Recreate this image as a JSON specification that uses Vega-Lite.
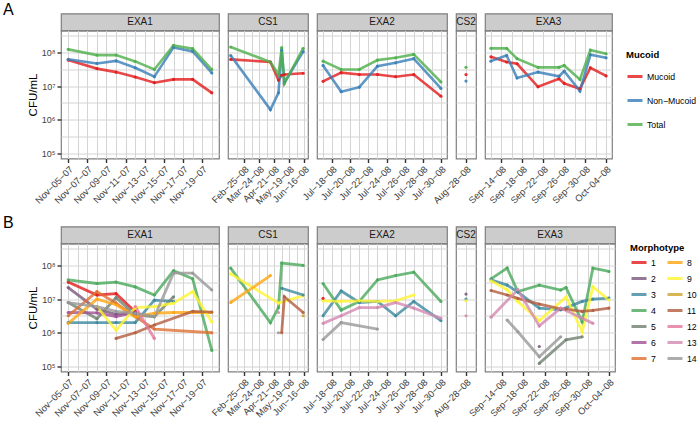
{
"$schema":"https://vega.github.io/schema/vega-lite/v6.json",
"padding":{"left":3,"top":1.5,"right":12,"bottom":0},
"datasets":{
"A":[
{"p":"EXA1","d":"2007-11-05T00:00","g":"Mucoid","v":5.9e7},{"p":"EXA1","d":"2007-11-08T00:00","g":"Mucoid","v":3.3e7},{"p":"EXA1","d":"2007-11-10T00:00","g":"Mucoid","v":2.6e7},{"p":"EXA1","d":"2007-11-12T00:00","g":"Mucoid","v":1.86e7},{"p":"EXA1","d":"2007-11-14T00:00","g":"Mucoid","v":1.26e7},{"p":"EXA1","d":"2007-11-16T00:00","g":"Mucoid","v":1.58e7},{"p":"EXA1","d":"2007-11-18T00:00","g":"Mucoid","v":1.58e7},{"p":"EXA1","d":"2007-11-20T00:00","g":"Mucoid","v":6.3e6},
{"p":"EXA1","d":"2007-11-05T00:00","g":"Non−Mucoid","v":6.2e7},{"p":"EXA1","d":"2007-11-08T00:00","g":"Non−Mucoid","v":4.7e7},{"p":"EXA1","d":"2007-11-10T00:00","g":"Non−Mucoid","v":5.6e7},{"p":"EXA1","d":"2007-11-12T00:00","g":"Non−Mucoid","v":3.5e7},{"p":"EXA1","d":"2007-11-14T00:00","g":"Non−Mucoid","v":1.9e7},{"p":"EXA1","d":"2007-11-16T00:00","g":"Non−Mucoid","v":1.41e8},{"p":"EXA1","d":"2007-11-18T00:00","g":"Non−Mucoid","v":1.07e8},{"p":"EXA1","d":"2007-11-20T00:00","g":"Non−Mucoid","v":2.45e7},
{"p":"EXA1","d":"2007-11-05T00:00","g":"Total","v":1.23e8},{"p":"EXA1","d":"2007-11-08T00:00","g":"Total","v":8.3e7},{"p":"EXA1","d":"2007-11-10T00:00","g":"Total","v":8.3e7},{"p":"EXA1","d":"2007-11-12T00:00","g":"Total","v":5.4e7},{"p":"EXA1","d":"2007-11-14T00:00","g":"Total","v":3.1e7},{"p":"EXA1","d":"2007-11-16T00:00","g":"Total","v":1.62e8},{"p":"EXA1","d":"2007-11-18T00:00","g":"Total","v":1.29e8},{"p":"EXA1","d":"2007-11-20T00:00","g":"Total","v":3.1e7},
{"p":"CS1","d":"2008-01-31T00:00","g":"Mucoid","v":6.2e7},{"p":"CS1","d":"2008-04-14T00:00","g":"Mucoid","v":5.2e7},{"p":"CS1","d":"2008-04-29T00:00","g":"Mucoid","v":1.51e7},{"p":"CS1","d":"2008-05-05T00:00","g":"Mucoid","v":2.1e7},{"p":"CS1","d":"2008-05-10T00:00","g":"Mucoid","v":2.2e7},{"p":"CS1","d":"2008-06-14T00:00","g":"Mucoid","v":2.4e7},
{"p":"CS1","d":"2008-01-31T00:00","g":"Non−Mucoid","v":8.1e7},{"p":"CS1","d":"2008-04-14T00:00","g":"Non−Mucoid","v":2.0e6},{"p":"CS1","d":"2008-04-29T00:00","g":"Non−Mucoid","v":6.3e6},{"p":"CS1","d":"2008-05-05T00:00","g":"Non−Mucoid","v":1.17e8},{"p":"CS1","d":"2008-05-10T00:00","g":"Non−Mucoid","v":1.26e7},{"p":"CS1","d":"2008-06-14T00:00","g":"Non−Mucoid","v":1.05e8},
{"p":"CS1","d":"2008-01-31T00:00","g":"Total","v":1.45e8},{"p":"CS1","d":"2008-04-14T00:00","g":"Total","v":5.2e7},{"p":"CS1","d":"2008-04-29T00:00","g":"Total","v":2.2e7},{"p":"CS1","d":"2008-05-05T00:00","g":"Total","v":1.38e8},{"p":"CS1","d":"2008-05-10T00:00","g":"Total","v":1.2e7},{"p":"CS1","d":"2008-06-14T00:00","g":"Total","v":1.32e8},
{"p":"EXA2","d":"2008-07-17T00:00","g":"Mucoid","v":1.38e7},{"p":"EXA2","d":"2008-07-19T00:00","g":"Mucoid","v":2.5e7},{"p":"EXA2","d":"2008-07-21T00:00","g":"Mucoid","v":2.2e7},{"p":"EXA2","d":"2008-07-23T00:00","g":"Mucoid","v":2.2e7},{"p":"EXA2","d":"2008-07-25T00:00","g":"Mucoid","v":1.9e7},{"p":"EXA2","d":"2008-07-27T00:00","g":"Mucoid","v":2.2e7},{"p":"EXA2","d":"2008-07-30T00:00","g":"Mucoid","v":5.0e6},
{"p":"EXA2","d":"2008-07-17T00:00","g":"Non−Mucoid","v":4.1e7},{"p":"EXA2","d":"2008-07-19T00:00","g":"Non−Mucoid","v":6.8e6},{"p":"EXA2","d":"2008-07-21T00:00","g":"Non−Mucoid","v":9.3e6},{"p":"EXA2","d":"2008-07-23T00:00","g":"Non−Mucoid","v":3.9e7},{"p":"EXA2","d":"2008-07-25T00:00","g":"Non−Mucoid","v":4.9e7},{"p":"EXA2","d":"2008-07-27T00:00","g":"Non−Mucoid","v":6.5e7},{"p":"EXA2","d":"2008-07-30T00:00","g":"Non−Mucoid","v":8.5e6},
{"p":"EXA2","d":"2008-07-17T00:00","g":"Total","v":5.5e7},{"p":"EXA2","d":"2008-07-19T00:00","g":"Total","v":3.1e7},{"p":"EXA2","d":"2008-07-21T00:00","g":"Total","v":3.1e7},{"p":"EXA2","d":"2008-07-23T00:00","g":"Total","v":5.9e7},{"p":"EXA2","d":"2008-07-25T00:00","g":"Total","v":6.9e7},{"p":"EXA2","d":"2008-07-27T00:00","g":"Total","v":8.7e7},{"p":"EXA2","d":"2008-07-30T00:00","g":"Total","v":1.32e7},
{"p":"CS2","d":"2008-08-28T00:00","g":"Mucoid","v":2.2e7},{"p":"CS2","d":"2008-08-28T00:00","g":"Non−Mucoid","v":1.41e7},{"p":"CS2","d":"2008-08-28T00:00","g":"Total","v":3.6e7},
{"p":"EXA3","d":"2008-09-12T00:00","g":"Mucoid","v":7.4e7},{"p":"EXA3","d":"2008-09-15T00:00","g":"Mucoid","v":5.2e7},{"p":"EXA3","d":"2008-09-17T00:00","g":"Mucoid","v":4.6e7},{"p":"EXA3","d":"2008-09-21T00:00","g":"Mucoid","v":9.5e6},{"p":"EXA3","d":"2008-09-25T00:00","g":"Mucoid","v":1.66e7},{"p":"EXA3","d":"2008-09-26T00:00","g":"Mucoid","v":1.2e7},{"p":"EXA3","d":"2008-09-29T00:00","g":"Mucoid","v":8.3e6},{"p":"EXA3","d":"2008-10-01T00:00","g":"Mucoid","v":3.5e7},{"p":"EXA3","d":"2008-10-04T00:00","g":"Mucoid","v":2.0e7},
{"p":"EXA3","d":"2008-09-12T00:00","g":"Non−Mucoid","v":5.5e7},{"p":"EXA3","d":"2008-09-15T00:00","g":"Non−Mucoid","v":8.1e7},{"p":"EXA3","d":"2008-09-17T00:00","g":"Non−Mucoid","v":1.74e7},{"p":"EXA3","d":"2008-09-21T00:00","g":"Non−Mucoid","v":2.6e7},{"p":"EXA3","d":"2008-09-25T00:00","g":"Non−Mucoid","v":1.95e7},{"p":"EXA3","d":"2008-09-26T00:00","g":"Non−Mucoid","v":2.75e7},{"p":"EXA3","d":"2008-09-29T00:00","g":"Non−Mucoid","v":7.1e6},{"p":"EXA3","d":"2008-10-01T00:00","g":"Non−Mucoid","v":8.5e7},{"p":"EXA3","d":"2008-10-04T00:00","g":"Non−Mucoid","v":6.9e7},
{"p":"EXA3","d":"2008-09-12T00:00","g":"Total","v":1.32e8},{"p":"EXA3","d":"2008-09-15T00:00","g":"Total","v":1.32e8},{"p":"EXA3","d":"2008-09-17T00:00","g":"Total","v":6.5e7},{"p":"EXA3","d":"2008-09-21T00:00","g":"Total","v":3.6e7},{"p":"EXA3","d":"2008-09-25T00:00","g":"Total","v":3.6e7},{"p":"EXA3","d":"2008-09-26T00:00","g":"Total","v":4.1e7},{"p":"EXA3","d":"2008-09-29T00:00","g":"Total","v":1.58e7},{"p":"EXA3","d":"2008-10-01T00:00","g":"Total","v":1.17e8},{"p":"EXA3","d":"2008-10-04T00:00","g":"Total","v":9.1e7}
],
"B":[
{"p":"EXA1","d":"2007-11-05T00:00","m":"1","v":3.2e7},{"p":"EXA1","d":"2007-11-08T00:00","m":"1","v":1.32e7},{"p":"EXA1","d":"2007-11-10T00:00","m":"1","v":1.45e7},{"p":"EXA1","d":"2007-11-12T00:00","m":"1","v":4.2e6},
{"p":"EXA1","d":"2007-11-05T00:00","m":"2","v":2.2e7},{"p":"EXA1","d":"2007-11-08T00:00","m":"2","v":5.0e6},{"p":"EXA1","d":"2007-11-10T00:00","m":"2","v":3.5e6},{"p":"EXA1","d":"2007-11-12T00:00","m":"2","v":4.0e6},
{"p":"EXA1","d":"2007-11-05T00:00","m":"3","v":2.0e6},{"p":"EXA1","d":"2007-11-08T00:00","m":"3","v":2.0e6},{"p":"EXA1","d":"2007-11-10T00:00","m":"3","v":2.0e6},{"p":"EXA1","d":"2007-11-12T00:00","m":"3","v":2.0e6},{"p":"EXA1","d":"2007-11-14T00:00","m":"3","v":9.3e6},{"p":"EXA1","d":"2007-11-16T00:00","m":"3","v":8.5e6},
{"p":"EXA1","d":"2007-11-05T00:00","m":"4","v":3.7e7},{"p":"EXA1","d":"2007-11-08T00:00","m":"4","v":2.9e7},{"p":"EXA1","d":"2007-11-10T00:00","m":"4","v":3.2e7},{"p":"EXA1","d":"2007-11-12T00:00","m":"4","v":2.3e7},{"p":"EXA1","d":"2007-11-14T00:00","m":"4","v":1.32e7},{"p":"EXA1","d":"2007-11-16T00:00","m":"4","v":6.9e7},{"p":"EXA1","d":"2007-11-18T00:00","m":"4","v":4.0e7},{"p":"EXA1","d":"2007-11-20T00:00","m":"4","v":3.0e5},
{"p":"EXA1","d":"2007-11-05T00:00","m":"5","v":7.9e6},{"p":"EXA1","d":"2007-11-08T00:00","m":"5","v":2.6e6},{"p":"EXA1","d":"2007-11-10T00:00","m":"5","v":1.1e7},{"p":"EXA1","d":"2007-11-12T00:00","m":"5","v":3.4e6},{"p":"EXA1","d":"2007-11-14T00:00","m":"5","v":3.0e6},{"p":"EXA1","d":"2007-11-16T00:00","m":"5","v":1.17e7},
{"p":"EXA1","d":"2007-11-05T00:00","m":"6","v":4.0e6},{"p":"EXA1","d":"2007-11-08T00:00","m":"6","v":3.9e6},{"p":"EXA1","d":"2007-11-10T00:00","m":"6","v":3.0e6},{"p":"EXA1","d":"2007-11-12T00:00","m":"6","v":4.0e6},
{"p":"EXA1","d":"2007-11-05T00:00","m":"7","v":3.2e6},{"p":"EXA1","d":"2007-11-08T00:00","m":"7","v":1.66e7},{"p":"EXA1","d":"2007-11-10T00:00","m":"7","v":7.6e6},{"p":"EXA1","d":"2007-11-12T00:00","m":"7","v":3.0e6},{"p":"EXA1","d":"2007-11-14T00:00","m":"7","v":1.29e6},{"p":"EXA1","d":"2007-11-20T00:00","m":"7","v":1.0e6},
{"p":"EXA1","d":"2007-11-05T00:00","m":"8","v":1.9e6},{"p":"EXA1","d":"2007-11-08T00:00","m":"8","v":1.0e7},{"p":"EXA1","d":"2007-11-10T00:00","m":"8","v":6.8e6},{"p":"EXA1","d":"2007-11-12T00:00","m":"8","v":3.0e6},{"p":"EXA1","d":"2007-11-14T00:00","m":"8","v":3.8e6},{"p":"EXA1","d":"2007-11-16T00:00","m":"8","v":4.0e6},{"p":"EXA1","d":"2007-11-18T00:00","m":"8","v":4.0e6},{"p":"EXA1","d":"2007-11-20T00:00","m":"8","v":4.0e6},
{"p":"EXA1","d":"2007-11-08T00:00","m":"9","v":6.0e6},{"p":"EXA1","d":"2007-11-10T00:00","m":"9","v":1.2e6},{"p":"EXA1","d":"2007-11-12T00:00","m":"9","v":5.6e6},{"p":"EXA1","d":"2007-11-14T00:00","m":"9","v":6.0e6},{"p":"EXA1","d":"2007-11-16T00:00","m":"9","v":7.6e6},{"p":"EXA1","d":"2007-11-18T00:00","m":"9","v":1.66e7},{"p":"EXA1","d":"2007-11-20T00:00","m":"9","v":2.1e6},
{"p":"EXA1","d":"2007-11-10T00:00","m":"11","v":6.8e5},{"p":"EXA1","d":"2007-11-12T00:00","m":"11","v":1.0e6},{"p":"EXA1","d":"2007-11-14T00:00","m":"11","v":1.7e6},{"p":"EXA1","d":"2007-11-18T00:00","m":"11","v":4.3e6},{"p":"EXA1","d":"2007-11-20T00:00","m":"11","v":4.1e6},
{"p":"EXA1","d":"2007-11-12T00:00","m":"12","v":6.0e6},{"p":"EXA1","d":"2007-11-14T00:00","m":"12","v":6.8e5},
{"p":"EXA1","d":"2007-11-05T00:00","m":"14","v":7.9e6},{"p":"EXA1","d":"2007-11-08T00:00","m":"14","v":6.0e6},{"p":"EXA1","d":"2007-11-10T00:00","m":"14","v":4.3e6},{"p":"EXA1","d":"2007-11-12T00:00","m":"14","v":3.8e6},{"p":"EXA1","d":"2007-11-14T00:00","m":"14","v":3.0e6},{"p":"EXA1","d":"2007-11-16T00:00","m":"14","v":5.9e7},{"p":"EXA1","d":"2007-11-18T00:00","m":"14","v":5.9e7},{"p":"EXA1","d":"2007-11-20T00:00","m":"14","v":1.86e7},
{"p":"CS1","d":"2008-01-31T00:00","m":"4","v":8.3e7},{"p":"CS1","d":"2008-04-14T00:00","m":"4","v":2.0e6},{"p":"CS1","d":"2008-04-29T00:00","m":"4","v":5.6e6},{"p":"CS1","d":"2008-05-05T00:00","m":"4","v":1.17e8},{"p":"CS1","d":"2008-06-14T00:00","m":"4","v":1.0e8},
{"p":"CS1","d":"2008-01-31T00:00","m":"9","v":5.6e7},{"p":"CS1","d":"2008-04-29T00:00","m":"9","v":7.6e6},{"p":"CS1","d":"2008-06-14T00:00","m":"9","v":1.26e7},
{"p":"CS1","d":"2008-01-31T00:00","m":"8","v":7.9e6},{"p":"CS1","d":"2008-04-14T00:00","m":"8","v":5.0e7},
{"p":"CS1","d":"2008-05-05T00:00","m":"3","v":2.1e7},{"p":"CS1","d":"2008-06-14T00:00","m":"3","v":1.32e7},
{"p":"CS1","d":"2008-05-05T00:00","m":"11","v":1.0e6},{"p":"CS1","d":"2008-05-10T00:00","m":"11","v":1.17e7},{"p":"CS1","d":"2008-06-14T00:00","m":"11","v":4.0e6},
{"p":"CS1","d":"2008-06-14T00:00","m":"10","v":3.2e6},
{"p":"CS1","d":"2008-04-29T00:00","m":"13","v":4.0e6},
{"p":"CS1","d":"2008-04-29T00:00","m":"14","v":1.0e6},
{"p":"EXA2","d":"2008-07-17T00:00","m":"4","v":2.9e7},{"p":"EXA2","d":"2008-07-19T00:00","m":"4","v":4.7e6},{"p":"EXA2","d":"2008-07-21T00:00","m":"4","v":8.5e6},{"p":"EXA2","d":"2008-07-23T00:00","m":"4","v":3.7e7},{"p":"EXA2","d":"2008-07-25T00:00","m":"4","v":5.0e7},{"p":"EXA2","d":"2008-07-27T00:00","m":"4","v":6.3e7},{"p":"EXA2","d":"2008-07-30T00:00","m":"4","v":8.5e6},
{"p":"EXA2","d":"2008-07-17T00:00","m":"3","v":3.2e6},{"p":"EXA2","d":"2008-07-19T00:00","m":"3","v":1.74e7},{"p":"EXA2","d":"2008-07-21T00:00","m":"3","v":7.9e6},{"p":"EXA2","d":"2008-07-23T00:00","m":"3","v":8.5e6},{"p":"EXA2","d":"2008-07-25T00:00","m":"3","v":3.2e6},{"p":"EXA2","d":"2008-07-27T00:00","m":"3","v":8.5e6},{"p":"EXA2","d":"2008-07-30T00:00","m":"3","v":2.3e6},
{"p":"EXA2","d":"2008-07-17T00:00","m":"9","v":8.9e6},{"p":"EXA2","d":"2008-07-19T00:00","m":"9","v":8.5e6},{"p":"EXA2","d":"2008-07-21T00:00","m":"9","v":8.9e6},{"p":"EXA2","d":"2008-07-23T00:00","m":"9","v":8.5e6},{"p":"EXA2","d":"2008-07-25T00:00","m":"9","v":8.9e6},{"p":"EXA2","d":"2008-07-27T00:00","m":"9","v":1.32e7},
{"p":"EXA2","d":"2008-07-17T00:00","m":"13","v":1.9e6},{"p":"EXA2","d":"2008-07-19T00:00","m":"13","v":3.2e6},{"p":"EXA2","d":"2008-07-21T00:00","m":"13","v":5.6e6},{"p":"EXA2","d":"2008-07-23T00:00","m":"13","v":5.6e6},{"p":"EXA2","d":"2008-07-25T00:00","m":"13","v":7.9e6},{"p":"EXA2","d":"2008-07-27T00:00","m":"13","v":5.4e6},{"p":"EXA2","d":"2008-07-30T00:00","m":"13","v":2.7e6},
{"p":"EXA2","d":"2008-07-17T00:00","m":"14","v":6.3e5},{"p":"EXA2","d":"2008-07-19T00:00","m":"14","v":2.0e6},{"p":"EXA2","d":"2008-07-23T00:00","m":"14","v":1.29e6},
{"p":"EXA2","d":"2008-07-17T00:00","m":"1","v":1.05e7},
{"p":"CS2","d":"2008-08-28T00:00","m":"2","v":1.41e7},{"p":"CS2","d":"2008-08-28T00:00","m":"3","v":1.0e7},{"p":"CS2","d":"2008-08-28T00:00","m":"9","v":8.9e6},{"p":"CS2","d":"2008-08-28T00:00","m":"13","v":3.2e6},
{"p":"EXA3","d":"2008-09-12T00:00","m":"4","v":4.0e7},{"p":"EXA3","d":"2008-09-15T00:00","m":"4","v":8.3e7},{"p":"EXA3","d":"2008-09-17T00:00","m":"4","v":1.66e7},{"p":"EXA3","d":"2008-09-21T00:00","m":"4","v":2.6e7},{"p":"EXA3","d":"2008-09-25T00:00","m":"4","v":1.86e7},{"p":"EXA3","d":"2008-09-26T00:00","m":"4","v":2.2e7},{"p":"EXA3","d":"2008-09-29T00:00","m":"4","v":2.1e6},{"p":"EXA3","d":"2008-10-01T00:00","m":"4","v":8.3e7},{"p":"EXA3","d":"2008-10-04T00:00","m":"4","v":6.6e7},
{"p":"EXA3","d":"2008-09-12T00:00","m":"3","v":3.7e7},{"p":"EXA3","d":"2008-09-15T00:00","m":"3","v":2.6e7},{"p":"EXA3","d":"2008-09-17T00:00","m":"3","v":1.6e7},{"p":"EXA3","d":"2008-09-21T00:00","m":"3","v":5.4e6},{"p":"EXA3","d":"2008-09-25T00:00","m":"3","v":4.8e6},{"p":"EXA3","d":"2008-09-29T00:00","m":"3","v":8.5e6},{"p":"EXA3","d":"2008-10-01T00:00","m":"3","v":1.0e7},{"p":"EXA3","d":"2008-10-04T00:00","m":"3","v":1.07e7},
{"p":"EXA3","d":"2008-09-12T00:00","m":"9","v":3.5e7},{"p":"EXA3","d":"2008-09-15T00:00","m":"9","v":1.9e7},{"p":"EXA3","d":"2008-09-17T00:00","m":"9","v":8.5e6},{"p":"EXA3","d":"2008-09-21T00:00","m":"9","v":2.3e6},{"p":"EXA3","d":"2008-09-26T00:00","m":"9","v":1.15e7},{"p":"EXA3","d":"2008-09-29T00:00","m":"9","v":1.07e6},{"p":"EXA3","d":"2008-10-01T00:00","m":"9","v":2.3e7},{"p":"EXA3","d":"2008-10-04T00:00","m":"9","v":9.5e6},
{"p":"EXA3","d":"2008-09-12T00:00","m":"11","v":1.8e7},{"p":"EXA3","d":"2008-09-15T00:00","m":"11","v":1.32e7},{"p":"EXA3","d":"2008-09-17T00:00","m":"11","v":1.05e7},{"p":"EXA3","d":"2008-09-21T00:00","m":"11","v":7.1e6},{"p":"EXA3","d":"2008-09-25T00:00","m":"11","v":5.1e6},{"p":"EXA3","d":"2008-09-26T00:00","m":"11","v":5.0e6},{"p":"EXA3","d":"2008-09-29T00:00","m":"11","v":4.3e6},{"p":"EXA3","d":"2008-10-01T00:00","m":"11","v":4.6e6},{"p":"EXA3","d":"2008-10-04T00:00","m":"11","v":5.4e6},
{"p":"EXA3","d":"2008-09-12T00:00","m":"13","v":2.9e6},{"p":"EXA3","d":"2008-09-17T00:00","m":"13","v":1.9e7},{"p":"EXA3","d":"2008-09-21T00:00","m":"13","v":1.6e6},{"p":"EXA3","d":"2008-09-25T00:00","m":"13","v":5.4e6},{"p":"EXA3","d":"2008-10-01T00:00","m":"13","v":1.9e6},
{"p":"EXA3","d":"2008-09-15T00:00","m":"14","v":2.4e6},{"p":"EXA3","d":"2008-09-17T00:00","m":"14","v":1.07e6},{"p":"EXA3","d":"2008-09-21T00:00","m":"14","v":1.95e5},{"p":"EXA3","d":"2008-09-25T00:00","m":"14","v":7.6e5},
{"p":"EXA3","d":"2008-09-21T00:00","m":"5","v":1.23e5},{"p":"EXA3","d":"2008-09-26T00:00","m":"5","v":6.2e5},{"p":"EXA3","d":"2008-09-29T00:00","m":"5","v":7.6e5},
{"p":"EXA3","d":"2008-09-21T00:00","m":"2","v":3.9e5}
]},
"vconcat":[
{"title":{"text":"A","anchor":"start","frame":"group","orient":"top","offset":0,"fontSize":16,"fontWeight":"normal","baseline":"alphabetic","dx":-58,"dy":18,"color":"#000000"},
"columns":5,"align":"each","bounds":"flush","spacing":{"row":0,"column":9},
"concat":[
{"width":158,"height":17,"data":{"values":[{"t":"EXA1"}]},"mark":{"type":"text","fontSize":10,"color":"#1a1a1a"},"encoding":{"text":{"field":"t","type":"nominal"}},"view":{"fill":"#cccccc","stroke":"#7f7f7f","strokeWidth":1.2}},
{"width":80,"height":17,"data":{"values":[{"t":"CS1"}]},"mark":{"type":"text","fontSize":10,"color":"#1a1a1a"},"encoding":{"text":{"field":"t","type":"nominal"}},"view":{"fill":"#cccccc","stroke":"#7f7f7f","strokeWidth":1.2}},
{"width":130,"height":17,"data":{"values":[{"t":"EXA2"}]},"mark":{"type":"text","fontSize":10,"color":"#1a1a1a"},"encoding":{"text":{"field":"t","type":"nominal"}},"view":{"fill":"#cccccc","stroke":"#7f7f7f","strokeWidth":1.2}},
{"width":20,"height":17,"data":{"values":[{"t":"CS2"}]},"mark":{"type":"text","fontSize":10,"color":"#1a1a1a"},"encoding":{"text":{"field":"t","type":"nominal"}},"view":{"fill":"#cccccc","stroke":"#7f7f7f","strokeWidth":1.2}},
{"width":127,"height":17,"data":{"values":[{"t":"EXA3"}]},"mark":{"type":"text","fontSize":10,"color":"#1a1a1a"},"encoding":{"text":{"field":"t","type":"nominal"}},"view":{"fill":"#cccccc","stroke":"#7f7f7f","strokeWidth":1.2}},
{"width":158,"height":128,"data":{"name":"A"},"transform":[{"filter":"datum.p==='EXA1'"}],
"encoding":{
"x":{"field":"d","type":"temporal","scale":{"nice":false,"domain":[{"year":2007,"month":11,"date":4,"hours":6},{"year":2007,"month":11,"date":20,"hours":18}]},"axis":{"title":null,"values":[{"year":2007,"month":11,"date":5},{"year":2007,"month":11,"date":6},{"year":2007,"month":11,"date":7},{"year":2007,"month":11,"date":8},{"year":2007,"month":11,"date":9},{"year":2007,"month":11,"date":10},{"year":2007,"month":11,"date":11},{"year":2007,"month":11,"date":12},{"year":2007,"month":11,"date":13},{"year":2007,"month":11,"date":14},{"year":2007,"month":11,"date":15},{"year":2007,"month":11,"date":16},{"year":2007,"month":11,"date":17},{"year":2007,"month":11,"date":18},{"year":2007,"month":11,"date":19},{"year":2007,"month":11,"date":20}],"labelExpr":"indexof(['11-05','11-07','11-09','11-11','11-13','11-15','11-17','11-19'], timeFormat(datum.value,'%m-%d'))>=0 ? timeFormat(datum.value,'%b−%d−%y') : ''","tickOpacity":{"condition":{"test":"indexof(['11-05','11-07','11-09','11-11','11-13','11-15','11-17','11-19'], timeFormat(datum.value,'%m-%d'))>=0","value":1},"value":0}}},
"y":{"field":"v","type":"quantitative","scale":{"type":"log","nice":false,"zero":false,"domain":[70794.58,446683592]},"axis":{"title":"CFU/mL","values":[100000,316227.766,1000000,3162277.66,10000000,31622776.6,100000000,316227766],"labelExpr":"abs(log(datum.value)/LN10-round(log(datum.value)/LN10))<0.01 ? '10'+['⁰','¹','²','³','⁴','⁵','⁶','⁷','⁸','⁹'][round(log(datum.value)/LN10)] : ''","tickOpacity":{"condition":{"test":"abs(log(datum.value)/LN10-round(log(datum.value)/LN10))<0.01","value":1},"value":0}}},
"color":{"field":"g","type":"nominal","scale":{"domain":["Mucoid","Non−Mucoid","Total"],"range":["#E41A1C","#377EB8","#4DAF4A"]},"legend":{"title":"Mucoid","legendX":565,"legendY":36.5,"rowPadding":9,"titlePadding":8}}},
"layer":[{"mark":{"type":"line","strokeWidth":2.6,"opacity":0.8},"encoding":{}},{"mark":{"type":"point","filled":true,"size":10,"opacity":0.9}}]},
{"width":80,"height":128,"data":{"name":"A"},"transform":[{"filter":"datum.p==='CS1'"}],
"encoding":{
"x":{"field":"d","type":"temporal","scale":{"nice":false,"domain":[{"year":2008,"month":1,"date":26},{"year":2008,"month":6,"date":23}]},"axis":{"title":null,"values":[{"year":2008,"month":2,"date":11},{"year":2008,"month":2,"date":25},{"year":2008,"month":3,"date":10},{"year":2008,"month":3,"date":24},{"year":2008,"month":4,"date":7},{"year":2008,"month":4,"date":21},{"year":2008,"month":5,"date":5},{"year":2008,"month":5,"date":19},{"year":2008,"month":6,"date":2},{"year":2008,"month":6,"date":16}],"labelExpr":"indexof(['02-25','03-24','04-21','05-19','06-16'], timeFormat(datum.value,'%m-%d'))>=0 ? timeFormat(datum.value,'%b−%d−%y') : ''","tickOpacity":{"condition":{"test":"indexof(['02-25','03-24','04-21','05-19','06-16'], timeFormat(datum.value,'%m-%d'))>=0","value":1},"value":0}}},
"y":{"field":"v","type":"quantitative","scale":{"type":"log","nice":false,"zero":false,"domain":[70794.58,446683592]},"axis":{"title":null,"labels":false,"ticks":false,"values":[100000,316227.766,1000000,3162277.66,10000000,31622776.6,100000000,316227766]}},
"color":{"field":"g","type":"nominal","scale":{"domain":["Mucoid","Non−Mucoid","Total"],"range":["#E41A1C","#377EB8","#4DAF4A"]},"legend":{"title":"Mucoid","legendX":565,"legendY":36.5,"rowPadding":9,"titlePadding":8}}},
"layer":[{"mark":{"type":"line","strokeWidth":2.6,"opacity":0.8},"encoding":{}},{"mark":{"type":"point","filled":true,"size":10,"opacity":0.9}}]},
{"width":130,"height":128,"data":{"name":"A"},"transform":[{"filter":"datum.p==='EXA2'"}],
"encoding":{
"x":{"field":"d","type":"temporal","scale":{"nice":false,"domain":[{"year":2008,"month":7,"date":16,"hours":8},{"year":2008,"month":7,"date":30,"hours":16}]},"axis":{"title":null,"values":[{"year":2008,"month":7,"date":17},{"year":2008,"month":7,"date":18},{"year":2008,"month":7,"date":19},{"year":2008,"month":7,"date":20},{"year":2008,"month":7,"date":21},{"year":2008,"month":7,"date":22},{"year":2008,"month":7,"date":23},{"year":2008,"month":7,"date":24},{"year":2008,"month":7,"date":25},{"year":2008,"month":7,"date":26},{"year":2008,"month":7,"date":27},{"year":2008,"month":7,"date":28},{"year":2008,"month":7,"date":29},{"year":2008,"month":7,"date":30}],"labelExpr":"indexof(['07-18','07-20','07-22','07-24','07-26','07-28','07-30'], timeFormat(datum.value,'%m-%d'))>=0 ? timeFormat(datum.value,'%b−%d−%y') : ''","tickOpacity":{"condition":{"test":"indexof(['07-18','07-20','07-22','07-24','07-26','07-28','07-30'], timeFormat(datum.value,'%m-%d'))>=0","value":1},"value":0}}},
"y":{"field":"v","type":"quantitative","scale":{"type":"log","nice":false,"zero":false,"domain":[70794.58,446683592]},"axis":{"title":null,"labels":false,"ticks":false,"values":[100000,316227.766,1000000,3162277.66,10000000,31622776.6,100000000,316227766]}},
"color":{"field":"g","type":"nominal","scale":{"domain":["Mucoid","Non−Mucoid","Total"],"range":["#E41A1C","#377EB8","#4DAF4A"]},"legend":{"title":"Mucoid","legendX":565,"legendY":36.5,"rowPadding":9,"titlePadding":8}}},
"layer":[{"mark":{"type":"line","strokeWidth":2.6,"opacity":0.8},"encoding":{}},{"mark":{"type":"point","filled":true,"size":10,"opacity":0.9}}]},
{"width":20,"height":128,"data":{"name":"A"},"transform":[{"filter":"datum.p==='CS2'"}],
"encoding":{
"x":{"field":"d","type":"temporal","scale":{"nice":false,"domain":[{"year":2008,"month":8,"date":27},{"year":2008,"month":8,"date":29}]},"axis":{"title":null,"values":[{"year":2008,"month":8,"date":28}],"labelExpr":"timeFormat(datum.value,'%b−%d−%y')"}},
"y":{"field":"v","type":"quantitative","scale":{"type":"log","nice":false,"zero":false,"domain":[70794.58,446683592]},"axis":{"title":null,"labels":false,"ticks":false,"values":[100000,316227.766,1000000,3162277.66,10000000,31622776.6,100000000,316227766]}},
"color":{"field":"g","type":"nominal","scale":{"domain":["Mucoid","Non−Mucoid","Total"],"range":["#E41A1C","#377EB8","#4DAF4A"]},"legend":{"title":"Mucoid","legendX":565,"legendY":36.5,"rowPadding":9,"titlePadding":8}}},
"layer":[{"mark":{"type":"line","strokeWidth":2.6,"opacity":0.8},"encoding":{}},{"mark":{"type":"point","filled":true,"size":10,"opacity":0.9}}]},
{"width":127,"height":128,"data":{"name":"A"},"transform":[{"filter":"datum.p==='EXA3'"}],
"encoding":{
"x":{"field":"d","type":"temporal","scale":{"nice":false,"domain":[{"year":2008,"month":9,"date":10,"hours":21},{"year":2008,"month":10,"date":5,"hours":3}]},"axis":{"title":null,"values":[{"year":2008,"month":9,"date":12},{"year":2008,"month":9,"date":14},{"year":2008,"month":9,"date":16},{"year":2008,"month":9,"date":18},{"year":2008,"month":9,"date":20},{"year":2008,"month":9,"date":22},{"year":2008,"month":9,"date":24},{"year":2008,"month":9,"date":26},{"year":2008,"month":9,"date":28},{"year":2008,"month":9,"date":30},{"year":2008,"month":10,"date":2},{"year":2008,"month":10,"date":4}],"labelExpr":"indexof(['09-14','09-18','09-22','09-26','09-30','10-04'], timeFormat(datum.value,'%m-%d'))>=0 ? timeFormat(datum.value,'%b−%d−%y') : ''","tickOpacity":{"condition":{"test":"indexof(['09-14','09-18','09-22','09-26','09-30','10-04'], timeFormat(datum.value,'%m-%d'))>=0","value":1},"value":0}}},
"y":{"field":"v","type":"quantitative","scale":{"type":"log","nice":false,"zero":false,"domain":[70794.58,446683592]},"axis":{"title":null,"labels":false,"ticks":false,"values":[100000,316227.766,1000000,3162277.66,10000000,31622776.6,100000000,316227766]}},
"color":{"field":"g","type":"nominal","scale":{"domain":["Mucoid","Non−Mucoid","Total"],"range":["#E41A1C","#377EB8","#4DAF4A"]},"legend":{"title":"Mucoid","legendX":565,"legendY":36.5,"rowPadding":9,"titlePadding":8}}},
"layer":[{"mark":{"type":"line","strokeWidth":2.6,"opacity":0.8},"encoding":{}},{"mark":{"type":"point","filled":true,"size":10,"opacity":0.9}}]}
]},
{"title":{"text":"B","anchor":"start","frame":"group","orient":"top","offset":0,"fontSize":16,"fontWeight":"normal","baseline":"alphabetic","dx":-58,"dy":18,"color":"#000000"},
"columns":5,"align":"each","bounds":"flush","spacing":{"row":0,"column":9},
"concat":[
{"width":158,"height":17,"data":{"values":[{"t":"EXA1"}]},"mark":{"type":"text","fontSize":10,"color":"#1a1a1a"},"encoding":{"text":{"field":"t","type":"nominal"}},"view":{"fill":"#cccccc","stroke":"#7f7f7f","strokeWidth":1.2}},
{"width":80,"height":17,"data":{"values":[{"t":"CS1"}]},"mark":{"type":"text","fontSize":10,"color":"#1a1a1a"},"encoding":{"text":{"field":"t","type":"nominal"}},"view":{"fill":"#cccccc","stroke":"#7f7f7f","strokeWidth":1.2}},
{"width":130,"height":17,"data":{"values":[{"t":"EXA2"}]},"mark":{"type":"text","fontSize":10,"color":"#1a1a1a"},"encoding":{"text":{"field":"t","type":"nominal"}},"view":{"fill":"#cccccc","stroke":"#7f7f7f","strokeWidth":1.2}},
{"width":20,"height":17,"data":{"values":[{"t":"CS2"}]},"mark":{"type":"text","fontSize":10,"color":"#1a1a1a"},"encoding":{"text":{"field":"t","type":"nominal"}},"view":{"fill":"#cccccc","stroke":"#7f7f7f","strokeWidth":1.2}},
{"width":130,"height":17,"data":{"values":[{"t":"EXA3"}]},"mark":{"type":"text","fontSize":10,"color":"#1a1a1a"},"encoding":{"text":{"field":"t","type":"nominal"}},"view":{"fill":"#cccccc","stroke":"#7f7f7f","strokeWidth":1.2}},
{"width":158,"height":128,"data":{"name":"B"},"transform":[{"filter":"datum.p==='EXA1'"}],
"encoding":{
"x":{"field":"d","type":"temporal","scale":{"nice":false,"domain":[{"year":2007,"month":11,"date":4,"hours":6},{"year":2007,"month":11,"date":20,"hours":18}]},"axis":{"title":null,"values":[{"year":2007,"month":11,"date":5},{"year":2007,"month":11,"date":6},{"year":2007,"month":11,"date":7},{"year":2007,"month":11,"date":8},{"year":2007,"month":11,"date":9},{"year":2007,"month":11,"date":10},{"year":2007,"month":11,"date":11},{"year":2007,"month":11,"date":12},{"year":2007,"month":11,"date":13},{"year":2007,"month":11,"date":14},{"year":2007,"month":11,"date":15},{"year":2007,"month":11,"date":16},{"year":2007,"month":11,"date":17},{"year":2007,"month":11,"date":18},{"year":2007,"month":11,"date":19},{"year":2007,"month":11,"date":20}],"labelExpr":"indexof(['11-05','11-07','11-09','11-11','11-13','11-15','11-17','11-19'], timeFormat(datum.value,'%m-%d'))>=0 ? timeFormat(datum.value,'%b−%d−%y') : ''","tickOpacity":{"condition":{"test":"indexof(['11-05','11-07','11-09','11-11','11-13','11-15','11-17','11-19'], timeFormat(datum.value,'%m-%d'))>=0","value":1},"value":0}}},
"y":{"field":"v","type":"quantitative","scale":{"type":"log","nice":false,"zero":false,"domain":[70794.58,446683592]},"axis":{"title":"CFU/mL","values":[100000,316227.766,1000000,3162277.66,10000000,31622776.6,100000000,316227766],"labelExpr":"abs(log(datum.value)/LN10-round(log(datum.value)/LN10))<0.01 ? '10'+['⁰','¹','²','³','⁴','⁵','⁶','⁷','⁸','⁹'][round(log(datum.value)/LN10)] : ''","tickOpacity":{"condition":{"test":"abs(log(datum.value)/LN10-round(log(datum.value)/LN10))<0.01","value":1},"value":0}}},
"color":{"field":"m","type":"nominal","scale":{"domain":["1","2","3","4","5","6","7","8","9","10","11","12","13","14"],"range":["#E41A1C","#7A587C","#3C899F","#4AA85B","#708273","#A05296","#DF7032","#FFA610","#FFF52F","#CFA42D","#B25D3F","#E4779C","#D38AB0","#999999"]},"legend":{"title":"Morphotype","columns":2,"legendX":569,"legendY":16,"rowPadding":1,"titlePadding":1.5,"columnPadding":5}}},
"layer":[{"mark":{"type":"line","strokeWidth":2.8,"opacity":0.8},"encoding":{}},{"mark":{"type":"point","filled":true,"size":10,"opacity":0.9}}]},
{"width":80,"height":128,"data":{"name":"B"},"transform":[{"filter":"datum.p==='CS1'"}],
"encoding":{
"x":{"field":"d","type":"temporal","scale":{"nice":false,"domain":[{"year":2008,"month":1,"date":26},{"year":2008,"month":6,"date":23}]},"axis":{"title":null,"values":[{"year":2008,"month":2,"date":11},{"year":2008,"month":2,"date":25},{"year":2008,"month":3,"date":10},{"year":2008,"month":3,"date":24},{"year":2008,"month":4,"date":7},{"year":2008,"month":4,"date":21},{"year":2008,"month":5,"date":5},{"year":2008,"month":5,"date":19},{"year":2008,"month":6,"date":2},{"year":2008,"month":6,"date":16}],"labelExpr":"indexof(['02-25','03-24','04-21','05-19','06-16'], timeFormat(datum.value,'%m-%d'))>=0 ? timeFormat(datum.value,'%b−%d−%y') : ''","tickOpacity":{"condition":{"test":"indexof(['02-25','03-24','04-21','05-19','06-16'], timeFormat(datum.value,'%m-%d'))>=0","value":1},"value":0}}},
"y":{"field":"v","type":"quantitative","scale":{"type":"log","nice":false,"zero":false,"domain":[70794.58,446683592]},"axis":{"title":null,"labels":false,"ticks":false,"values":[100000,316227.766,1000000,3162277.66,10000000,31622776.6,100000000,316227766]}},
"color":{"field":"m","type":"nominal","scale":{"domain":["1","2","3","4","5","6","7","8","9","10","11","12","13","14"],"range":["#E41A1C","#7A587C","#3C899F","#4AA85B","#708273","#A05296","#DF7032","#FFA610","#FFF52F","#CFA42D","#B25D3F","#E4779C","#D38AB0","#999999"]},"legend":{"title":"Morphotype","columns":2,"legendX":569,"legendY":16,"rowPadding":1,"titlePadding":1.5,"columnPadding":5}}},
"layer":[{"mark":{"type":"line","strokeWidth":2.8,"opacity":0.8},"encoding":{}},{"mark":{"type":"point","filled":true,"size":10,"opacity":0.9}}]},
{"width":130,"height":128,"data":{"name":"B"},"transform":[{"filter":"datum.p==='EXA2'"}],
"encoding":{
"x":{"field":"d","type":"temporal","scale":{"nice":false,"domain":[{"year":2008,"month":7,"date":16,"hours":8},{"year":2008,"month":7,"date":30,"hours":16}]},"axis":{"title":null,"values":[{"year":2008,"month":7,"date":17},{"year":2008,"month":7,"date":18},{"year":2008,"month":7,"date":19},{"year":2008,"month":7,"date":20},{"year":2008,"month":7,"date":21},{"year":2008,"month":7,"date":22},{"year":2008,"month":7,"date":23},{"year":2008,"month":7,"date":24},{"year":2008,"month":7,"date":25},{"year":2008,"month":7,"date":26},{"year":2008,"month":7,"date":27},{"year":2008,"month":7,"date":28},{"year":2008,"month":7,"date":29},{"year":2008,"month":7,"date":30}],"labelExpr":"indexof(['07-18','07-20','07-22','07-24','07-26','07-28','07-30'], timeFormat(datum.value,'%m-%d'))>=0 ? timeFormat(datum.value,'%b−%d−%y') : ''","tickOpacity":{"condition":{"test":"indexof(['07-18','07-20','07-22','07-24','07-26','07-28','07-30'], timeFormat(datum.value,'%m-%d'))>=0","value":1},"value":0}}},
"y":{"field":"v","type":"quantitative","scale":{"type":"log","nice":false,"zero":false,"domain":[70794.58,446683592]},"axis":{"title":null,"labels":false,"ticks":false,"values":[100000,316227.766,1000000,3162277.66,10000000,31622776.6,100000000,316227766]}},
"color":{"field":"m","type":"nominal","scale":{"domain":["1","2","3","4","5","6","7","8","9","10","11","12","13","14"],"range":["#E41A1C","#7A587C","#3C899F","#4AA85B","#708273","#A05296","#DF7032","#FFA610","#FFF52F","#CFA42D","#B25D3F","#E4779C","#D38AB0","#999999"]},"legend":{"title":"Morphotype","columns":2,"legendX":569,"legendY":16,"rowPadding":1,"titlePadding":1.5,"columnPadding":5}}},
"layer":[{"mark":{"type":"line","strokeWidth":2.8,"opacity":0.8},"encoding":{}},{"mark":{"type":"point","filled":true,"size":10,"opacity":0.9}}]},
{"width":20,"height":128,"data":{"name":"B"},"transform":[{"filter":"datum.p==='CS2'"}],
"encoding":{
"x":{"field":"d","type":"temporal","scale":{"nice":false,"domain":[{"year":2008,"month":8,"date":27},{"year":2008,"month":8,"date":29}]},"axis":{"title":null,"values":[{"year":2008,"month":8,"date":28}],"labelExpr":"timeFormat(datum.value,'%b−%d−%y')"}},
"y":{"field":"v","type":"quantitative","scale":{"type":"log","nice":false,"zero":false,"domain":[70794.58,446683592]},"axis":{"title":null,"labels":false,"ticks":false,"values":[100000,316227.766,1000000,3162277.66,10000000,31622776.6,100000000,316227766]}},
"color":{"field":"m","type":"nominal","scale":{"domain":["1","2","3","4","5","6","7","8","9","10","11","12","13","14"],"range":["#E41A1C","#7A587C","#3C899F","#4AA85B","#708273","#A05296","#DF7032","#FFA610","#FFF52F","#CFA42D","#B25D3F","#E4779C","#D38AB0","#999999"]},"legend":{"title":"Morphotype","columns":2,"legendX":569,"legendY":16,"rowPadding":1,"titlePadding":1.5,"columnPadding":5}}},
"layer":[{"mark":{"type":"line","strokeWidth":2.8,"opacity":0.8},"encoding":{}},{"mark":{"type":"point","filled":true,"size":10,"opacity":0.9}}]},
{"width":130,"height":128,"data":{"name":"B"},"transform":[{"filter":"datum.p==='EXA3'"}],
"encoding":{
"x":{"field":"d","type":"temporal","scale":{"nice":false,"domain":[{"year":2008,"month":9,"date":10,"hours":21},{"year":2008,"month":10,"date":5,"hours":3}]},"axis":{"title":null,"values":[{"year":2008,"month":9,"date":12},{"year":2008,"month":9,"date":14},{"year":2008,"month":9,"date":16},{"year":2008,"month":9,"date":18},{"year":2008,"month":9,"date":20},{"year":2008,"month":9,"date":22},{"year":2008,"month":9,"date":24},{"year":2008,"month":9,"date":26},{"year":2008,"month":9,"date":28},{"year":2008,"month":9,"date":30},{"year":2008,"month":10,"date":2},{"year":2008,"month":10,"date":4}],"labelExpr":"indexof(['09-14','09-18','09-22','09-26','09-30','10-04'], timeFormat(datum.value,'%m-%d'))>=0 ? timeFormat(datum.value,'%b−%d−%y') : ''","tickOpacity":{"condition":{"test":"indexof(['09-14','09-18','09-22','09-26','09-30','10-04'], timeFormat(datum.value,'%m-%d'))>=0","value":1},"value":0}}},
"y":{"field":"v","type":"quantitative","scale":{"type":"log","nice":false,"zero":false,"domain":[70794.58,446683592]},"axis":{"title":null,"labels":false,"ticks":false,"values":[100000,316227.766,1000000,3162277.66,10000000,31622776.6,100000000,316227766]}},
"color":{"field":"m","type":"nominal","scale":{"domain":["1","2","3","4","5","6","7","8","9","10","11","12","13","14"],"range":["#E41A1C","#7A587C","#3C899F","#4AA85B","#708273","#A05296","#DF7032","#FFA610","#FFF52F","#CFA42D","#B25D3F","#E4779C","#D38AB0","#999999"]},"legend":{"title":"Morphotype","columns":2,"legendX":569,"legendY":16,"rowPadding":1,"titlePadding":1.5,"columnPadding":5}}},
"layer":[{"mark":{"type":"line","strokeWidth":2.8,"opacity":0.8},"encoding":{}},{"mark":{"type":"point","filled":true,"size":10,"opacity":0.9}}]}
]}
],
"spacing":8,
"resolve":{"scale":{"color":"independent"},"legend":{"color":"independent"}},
"config":{
"font":"Liberation Sans",
"view":{"stroke":"#7f7f7f","strokeWidth":1.2},
"axis":{"gridColor":"#d4d4d4","gridWidth":1,"domain":false,"tickColor":"#333333","tickWidth":1.4,"tickSize":4,"labelColor":"#404040","labelFontSize":9.4,"titleFontWeight":"normal","titleFontSize":11.5,"titleColor":"#000000","labelPadding":2},
"axisX":{"labelAngle":-45,"labelAlign":"right","labelBaseline":"top","labelOverlap":false,"labelFlush":false},
"axisY":{"labelFontSize":9,"titlePadding":3},
"legend":{"orient":"none","titleFontSize":9.5,"titleFontWeight":"bold","titleColor":"#000000","labelFontSize":8.7,"labelColor":"#000000","symbolType":"stroke","symbolStrokeWidth":3,"symbolSize":225,"padding":0,"labelOffset":3}
}
}
